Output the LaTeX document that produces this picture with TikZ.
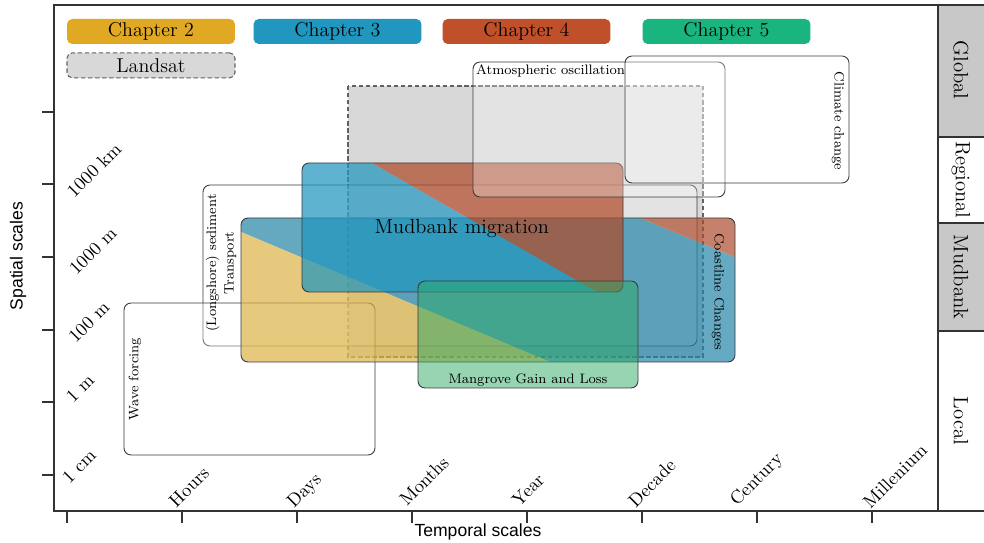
\documentclass[tikz,border=0pt]{standalone}
\usepackage{fontspec}
\newfontfamily\axisfont{Liberation Sans}
\definecolor{chTwo}{HTML}{E0A823}
\definecolor{chThree}{HTML}{2196BE}
\definecolor{chFour}{HTML}{C0502A}
\definecolor{chFive}{HTML}{1AB57F}
\definecolor{coastGold}{HTML}{DBB345}
\definecolor{coastBlue}{HTML}{2485A8}
\definecolor{coastRed}{HTML}{AE4C2F}
\definecolor{mudRed}{HTML}{B04A2A}
\definecolor{mangroveGreen}{HTML}{2DA965}
\definecolor{lsGray}{HTML}{D7D8D7}
\definecolor{panelGray}{HTML}{C8C8C8}
\definecolor{boxLine}{HTML}{3A3A3A}
\definecolor{axisGray}{HTML}{333333}
\usetikzlibrary{positioning}

\begin{document}
\begin{tikzpicture}[x=0.02cm, y=-0.02cm,
  chip/.style={rounded corners=3pt, minimum width=3.36cm, minimum height=0.5cm,
    inner sep=0pt, font=\fontsize{11.4}{13}\selectfont},
  scalebox/.style={rounded corners=4pt, draw=boxLine, line width=0.5pt},
  veil/.style={scalebox, fill=white, fill opacity=0.3},
  dashline/.style={draw=boxLine!80, line width=0.6pt, dash pattern=on 2.5pt off 1.5pt},
  tag/.style={font=\fontsize{7.8}{10}\selectfont, inner sep=1pt},
  ticklabel/.style={font=\fontsize{10.5}{12}\selectfont, rotate=45, inner sep=0pt},
  zone/.style={font=\fontsize{11.8}{14}\selectfont, rotate=-90, inner sep=0pt},
  axisline/.style={draw=axisGray, line width=0.8pt},
  tickline/.style={draw=axisGray, line width=0.6pt},
  axistitle/.style={font=\axisfont\fontsize{10}{12}\selectfont}
]
  \useasboundingbox (0,0) rectangle (984,543);

  % legend chips
  \node[chip, fill=chTwo] (ch2) at (151,31.5) {Chapter 2};
  \node[chip, fill=chThree] (ch3) at (337.5,31.5) {Chapter 3};
  \node[chip, fill=chFour] (ch4) at (526.5,31.5) {Chapter 4};
  \node[chip, fill=chFive] (ch5) at (726.5,31.5) {Chapter 5};
  \node[chip, fill=lsGray, dashline, below=0.16cm of ch2] (landsat) {Landsat};

  % side panel
  \fill[panelGray] (938,5) rectangle (984,137);
  \fill[panelGray] (938,223) rectangle (984,331);
  \draw[tickline] (938,137) -- (984,137);
  \draw[tickline] (938,223) -- (984,223);
  \draw[tickline] (938,331) -- (984,331);
  \draw[axisline] (984,5) -- (938,5) -- (938,511) -- (984,511);
  \node[zone] (global) at (961,70) {Global};
  \node[zone] (regional) at (961,180) {Regional};
  \node[zone] (mudzone) at (961,277) {Mudbank};
  \node[zone] (local) at (961,421) {Local};

  % landsat footprint
  \path[dashline, fill=lsGray] (348,86) rectangle (703,357);

  % open process boxes
  \draw[veil] (203,185) rectangle (697,346);
  \draw[veil] (124,303) rectangle (375,455);

  % coastline changes
  \begin{scope}[transparency group, opacity=0.7]
    \clip[rounded corners=4pt] (241,218) rectangle (735,362);
    \fill[coastBlue] (241,218) -- (640,218) -- (735,257) -- (735,362)
      -- (550,362) -- (241,232) -- cycle;
    \fill[coastGold] (241,232) -- (550,362) -- (241,362) -- cycle;
    \fill[coastRed] (640,218) -- (735,218) -- (735,257) -- cycle;
  \end{scope}
  \draw[scalebox] (241,218) rectangle (735,362);

  % mudbank migration
  \begin{scope}[transparency group, opacity=0.72]
    \clip[rounded corners=4pt] (302,163) rectangle (623,292);
    \fill[chThree] (302,163) -- (372,163) -- (597,292) -- (302,292) -- cycle;
    \fill[mudRed] (372,163) -- (623,163) -- (623,292) -- (597,292) -- cycle;
  \end{scope}
  \draw[scalebox] (302,163) rectangle (623,292);

  % large scale boxes
  \draw[veil] (473,62) rectangle (725,197);
  \draw[veil] (625,56) rectangle (849,183);

  % mangrove
  \draw[scalebox, fill=mangroveGreen, fill opacity=0.5] (418,281) rectangle (638,388);

  % box labels
  \node[tag, anchor=north west] (atmo) at (474,63) {Atmospheric oscillation};
  \node[tag, rotate=-90] (climate) at (838,121) {Climate change};
  \node[tag, rotate=-90] (coast) at (718,292) {Coastline Changes};
  \node[tag, rotate=90, align=center] (longshore) at (221,263) {(Longshore) sediment\\Transport};
  \node[tag, rotate=90] (wave) at (135,379) {Wave forcing};
  \node[font=\fontsize{11.6}{13}\selectfont] (mudmig) at (462,229) {Mudbank migration};
  \node[tag, anchor=base] (mangrove) at (528,384) {Mangrove Gain and Loss};

  % axes
  \draw[axisline] (938,5) -- (54,5) -- (54,511) -- (938,511);
  \draw[tickline] (42,112) -- (54,112);
  \draw[tickline] (42,184) -- (54,184);
  \draw[tickline] (42,257) -- (54,257);
  \draw[tickline] (42,330) -- (54,330);
  \draw[tickline] (42,402) -- (54,402);
  \draw[tickline] (42,475) -- (54,475);
  \draw[tickline] (67,511) -- (67,523);
  \draw[tickline] (182,511) -- (182,523);
  \draw[tickline] (297,511) -- (297,523);
  \draw[tickline] (412,511) -- (412,523);
  \draw[tickline] (527,511) -- (527,523);
  \draw[tickline] (642,511) -- (642,523);
  \draw[tickline] (757,511) -- (757,523);
  \draw[tickline] (872,511) -- (872,523);

  % axis labels
  \node[ticklabel] (km) at (94,170) {1000 km};
  \node[ticklabel] (thm) at (93,251) {1000 m};
  \node[ticklabel] (hm) at (89,322) {100 m};
  \node[ticklabel] (onem) at (80,388) {1 m};
  \node[ticklabel] (cm) at (79,466) {1 cm};
  \node[ticklabel] (hours) at (189,487) {Hours};
  \node[ticklabel] (days) at (305,491) {Days};
  \node[ticklabel] (months) at (424,481) {Months};
  \node[ticklabel] (year) at (528,490) {Year};
  \node[ticklabel] (decade) at (652,483) {Decade};
  \node[ticklabel] (century) at (757,480) {Century};
  \node[ticklabel] (millenium) at (895,476) {Millenium};
  \node[axistitle, rotate=90] (spatial) at (18,256) {Spatial scales};
  \node[axistitle] (temporal) at (478,532) {Temporal scales};
\end{tikzpicture}
\end{document}
